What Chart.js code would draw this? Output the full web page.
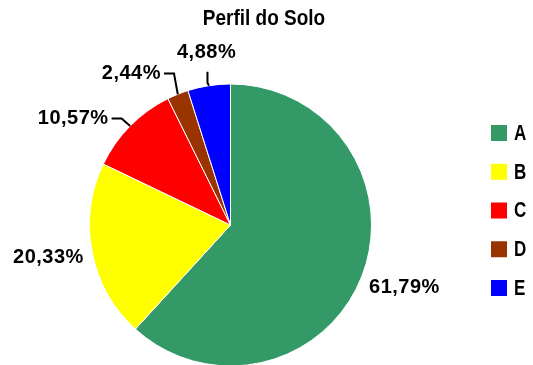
<!DOCTYPE html>
<html>
<head>
<meta charset="utf-8">
<style>
  html, body { margin: 0; padding: 0; background: #fff; overflow: hidden; }
  #wrap { width: 533px; height: 365px; overflow: hidden; position: relative; }
  canvas { display: block; }
</style>
<script src="https://cdn.jsdelivr.net/npm/chart.js@4.4.1/dist/chart.umd.min.js"></script>
</head>
<body>
<div id="wrap"><canvas id="c" width="533" height="368"></canvas></div>
<script>
// Soil profile composition (percent of total)
const categories = ['A', 'B', 'C', 'D', 'E'];
const shares = [61.79, 20.33, 10.57, 2.44, 4.88];
const sliceColors = ['#339966', '#FFFF00', '#FF0000', '#993300', '#0000FF'];
const chartTitle = 'Perfil do Solo';

// Placement of each percentage label: polar angle (deg, clockwise from 3 o'clock)
// and distance from the pie centre; small slices get a leader line.
const labelSpots = [
  { angle: 19.9,  dist: 185, leader: null },
  { angle: 169.8, dist: 185, leader: null },
  { angle: 214.1, dist: 190, leader: 'side' },
  { angle: 236.8, dist: 181, leader: 'side' },
  { angle: 262.1, dist: 174, leader: 'below' }
];

const FONT = "'Liberation Sans', Arial, sans-serif";

function fmtPct(v) {
  return v.toFixed(2).replace('.', ',') + '%';
}

function drawScaledText(ctx, text, x, y, sy) {
  ctx.save();
  ctx.translate(x, y);
  ctx.scale(1, sy);
  ctx.fillText(text, 0, 0);
  ctx.restore();
}

const decorations = {
  id: 'decorations',
  afterDraw(chart) {
    const ctx = chart.ctx;
    const meta = chart.getDatasetMeta(0);
    const values = chart.data.datasets[0].data;

    // title
    ctx.save();
    ctx.fillStyle = '#000';
    ctx.font = 'bold 19px ' + FONT;
    ctx.textAlign = 'center';
    ctx.textBaseline = 'middle';
    drawScaledText(ctx, chartTitle, 264, 18.5, 1.15);
    ctx.restore();

    // percentage labels with leader lines
    ctx.save();
    ctx.fillStyle = '#000';
    ctx.strokeStyle = '#000';
    ctx.lineWidth = 2;
    ctx.font = 'bold 20px ' + FONT;
    ctx.letterSpacing = '0.5px';
    ctx.textAlign = 'center';
    ctx.textBaseline = 'middle';
    meta.data.forEach((arc, i) => {
      const p = arc.getProps(['x', 'y', 'startAngle', 'endAngle', 'outerRadius'], true);
      const mid = (p.startAngle + p.endAngle) / 2;
      const spot = labelSpots[i];
      const a = spot.angle * Math.PI / 180;
      const lx = p.x + spot.dist * Math.cos(a);
      const ly = p.y + spot.dist * Math.sin(a);
      const text = fmtPct(values[i]);
      ctx.fillText(text, lx, ly);
      if (!spot.leader) return;
      const w = ctx.measureText(text).width;
      const ex = p.x + p.outerRadius * Math.cos(mid);
      const ey = p.y + p.outerRadius * Math.sin(mid);
      let p0, p1;
      if (spot.leader === 'side') {
        p0 = [lx + w / 2 + 3, ly];
        p1 = [p0[0] + 10, ly];
      } else {
        p0 = [ex - 1.5, ly + 19];
        p1 = [ex - 1.5, ey - 3];
      }
      ctx.beginPath();
      ctx.moveTo(p0[0], p0[1]);
      ctx.lineTo(p1[0], p1[1]);
      ctx.lineTo(ex, ey);
      ctx.stroke();
    });
    ctx.restore();

    // legend
    ctx.save();
    ctx.font = 'bold 17px ' + FONT;
    ctx.textAlign = 'left';
    ctx.textBaseline = 'middle';
    chart.data.labels.forEach((lab, i) => {
      const cy = 133 + i * 38.75;
      ctx.fillStyle = chart.data.datasets[0].backgroundColor[i];
      ctx.fillRect(491, cy - 8, 16, 16);
      ctx.fillStyle = '#000';
      drawScaledText(ctx, lab, 514, cy + 0.5, 1.35);
    });
    ctx.restore();
  }
};

new Chart(document.getElementById('c'), {
  type: 'pie',
  data: {
    labels: categories,
    datasets: [{
      data: shares,
      backgroundColor: sliceColors,
      borderColor: '#ffffff',
      borderWidth: 1,
      radius: 141
    }]
  },
  options: {
    responsive: false,
    animation: false,
    events: [],
    layout: { padding: { top: 84, bottom: 2, left: 89.5, right: 161.5 } },
    plugins: {
      legend: { display: false },
      tooltip: { enabled: false },
      title: { display: false }
    }
  },
  plugins: [decorations]
});
</script>
</body>
</html>
